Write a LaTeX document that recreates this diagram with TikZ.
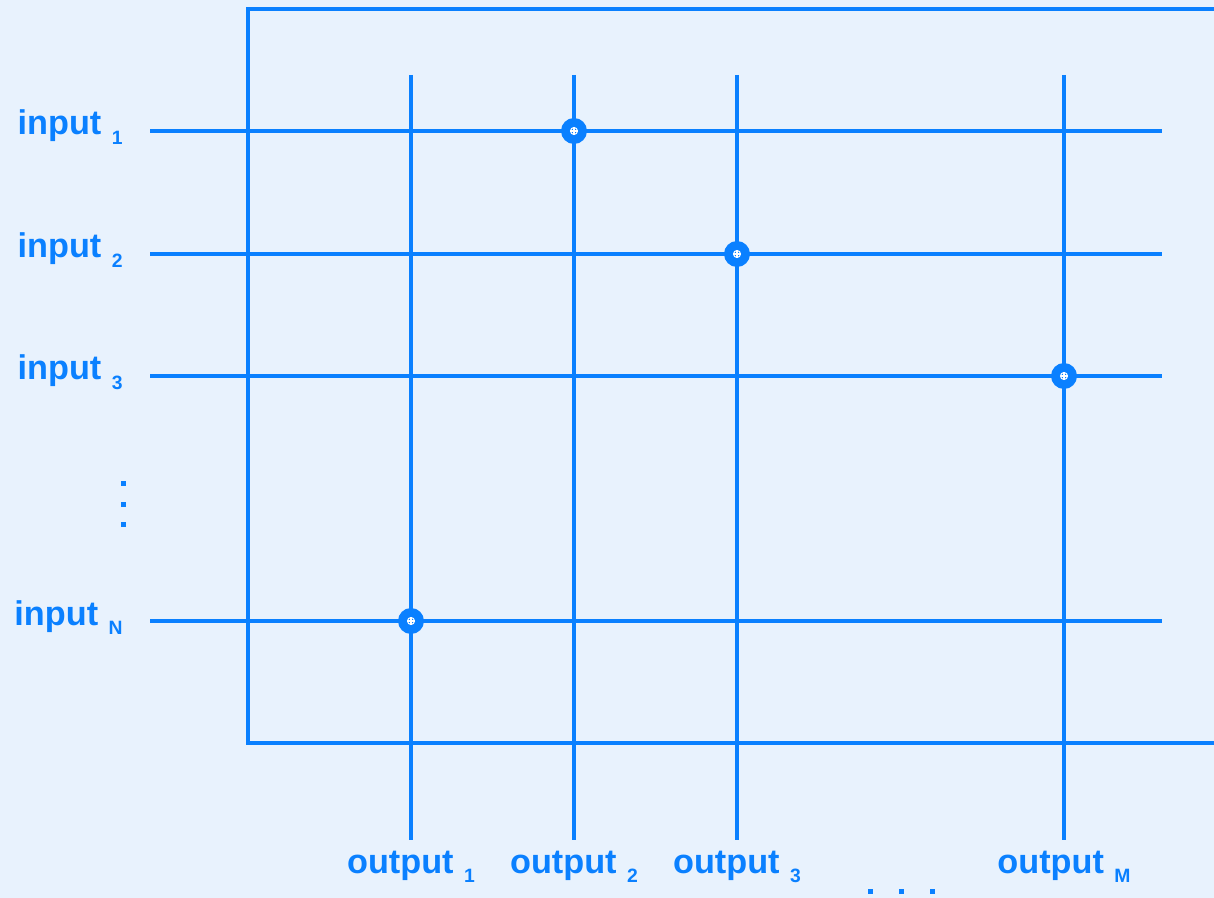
\documentclass[tikz,border=0pt]{standalone}
\usepackage{fontspec}
\setmainfont{Liberation Sans}
\usetikzlibrary{positioning}
\definecolor{xbarblue}{RGB}{10,128,255}
\definecolor{paper}{RGB}{232,242,253}
\newcommand{\portlbl}[2]{#1\hspace{6pt}\raisebox{-5.5pt}{\fontsize{11pt}{13pt}\selectfont #2}}

\begin{document}
\begin{tikzpicture}[x=0.02cm, y=-0.02cm,
  wire/.style={draw=xbarblue, line width=1.9pt},
  lbl/.style={text=xbarblue, inner sep=0pt, font=\fontsize{19.5pt}{22pt}\selectfont\bfseries},
  xpt/.style={circle, fill=xbarblue, minimum size=0.52cm, inner sep=0pt,
    path picture={
      \draw[white, line width=0.6pt] (path picture bounding box.center) circle (0.07cm);
      \draw[white, line width=0.6pt] ([xshift=-0.07cm]path picture bounding box.center) -- ([xshift=0.07cm]path picture bounding box.center);
      \draw[white, line width=0.6pt] ([yshift=-0.07cm]path picture bounding box.center) -- ([yshift=0.07cm]path picture bounding box.center);
    }}]
  \useasboundingbox[fill=paper] (0,0) rectangle (1214,898);
  % frame
  \coordinate (fTR) at (1214,9);
  \coordinate (fTL) at (248,9);
  \coordinate (fBL) at (248,743);
  \coordinate (fBR) at (1214,743);
  \draw[wire] (fTR) -- (fTL) -- (fBL) -- (fBR);
  % inputs
  \foreach \i/\y/\s in {1/131/1, 2/254/2, 3/376/3, 4/621/N} {
    \coordinate (in\i w) at (150,\y);
    \coordinate (in\i e) at (1162,\y);
    \draw[wire] (in\i w) -- (in\i e);
    \node[lbl, anchor=base east] (inlbl\i) at (123,\y+4) {\portlbl{input}{\s}};
  }
  % outputs
  \foreach \j/\x/\s in {1/411/1, 2/574/2, 3/737/3, 4/1064/M} {
    \coordinate (out\j n) at (\x,75);
    \coordinate (out\j s) at (\x,840);
    \draw[wire] (out\j n) -- (out\j s);
    \node[lbl, anchor=base] (outlbl\j) at (\x,873) {\portlbl{output}{\s}};
  }
  % crosspoints
  \node[xpt] (x12) at (out2n |- in1w) {};
  \node[xpt] (x23) at (out3n |- in2w) {};
  \node[xpt] (x34) at (out4n |- in3w) {};
  \node[xpt] (x41) at (out1n |- in4w) {};
  % ellipses
  \foreach \y in {484,504,524}
    \fill[xbarblue] (121,\y-2.5) rectangle ++(5,5);
  \foreach \x in {870,901,932}
    \fill[xbarblue] (\x-2.5,889) rectangle ++(5,5);
\end{tikzpicture}
\end{document}
